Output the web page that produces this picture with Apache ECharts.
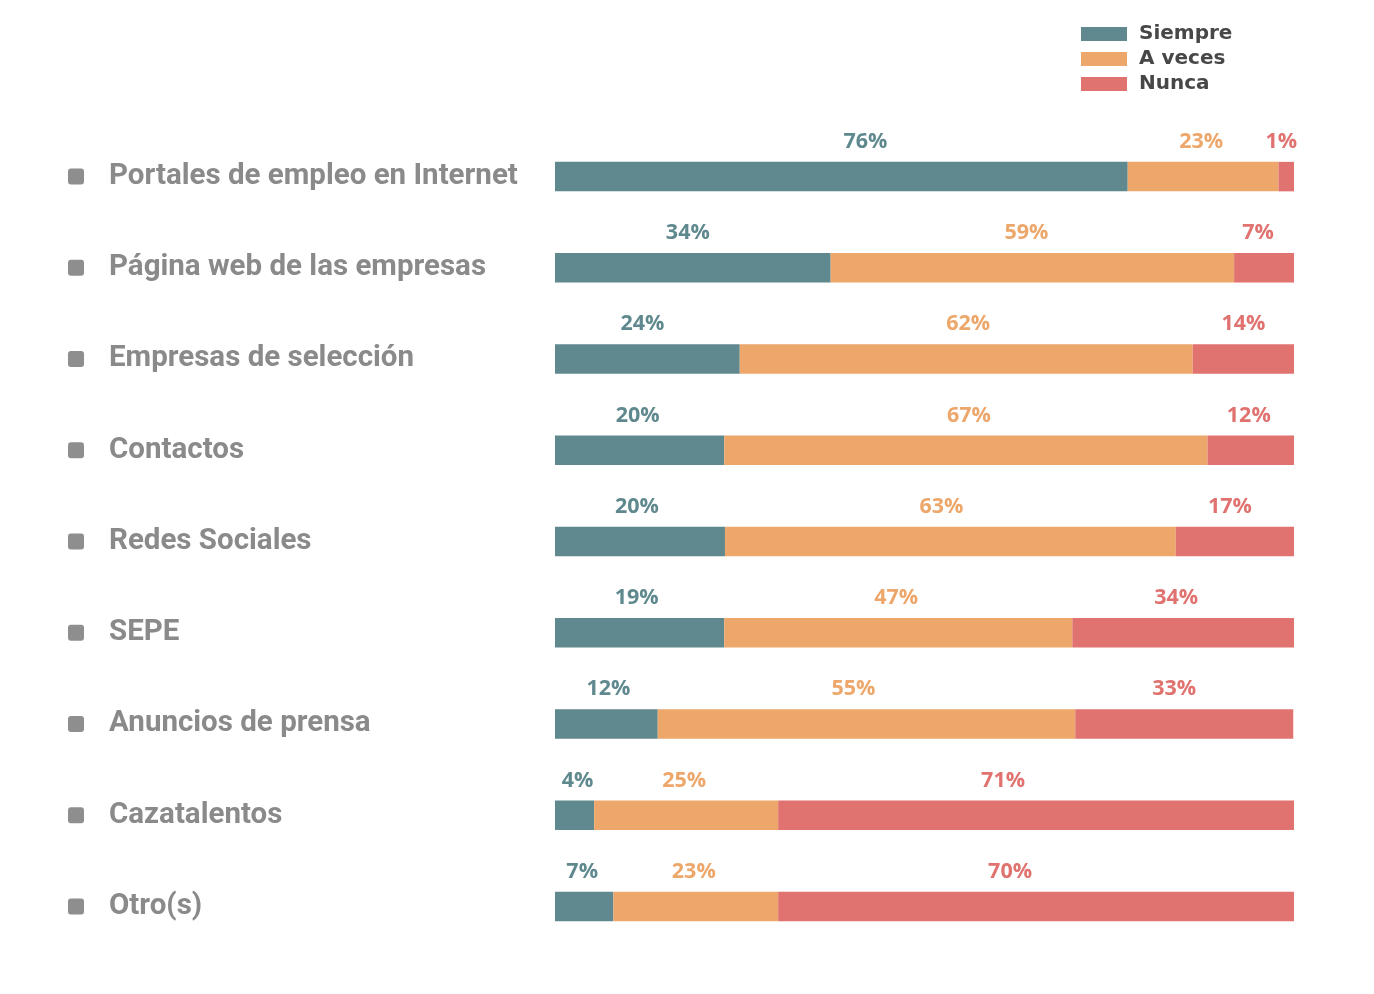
<!DOCTYPE html>
<html>
<head>
<meta charset="utf-8">
<script src="https://cdn.jsdelivr.net/npm/echarts@6/dist/echarts.min.js"></script>
<style>html,body{margin:0;padding:0;background:#fff}#c{width:1374px;height:994px}</style>
</head>
<body>
<div id="c"></div>
<script>
var categories = ['Portales de empleo en Internet','Página web de las empresas','Empresas de selección','Contactos','Redes Sociales','SEPE','Anuncios de prensa','Cazatalentos','Otro(s)'];
var seriesNames = ['Siempre','A veces','Nunca'];
// bar lengths (share of the full bar)
var siempre = [77.5, 37.3, 25.0, 22.9, 23.0, 22.9, 13.9, 5.3, 7.9];
var aveces  = [20.4, 54.6, 61.3, 65.4, 61.0, 47.1, 56.5, 24.9, 22.3];
var nunca   = [2.1, 8.1, 13.7, 11.7, 16.0, 30.0, 29.5, 69.8, 69.8];
// printed percentage labels
var siempreLabels = ['76%','34%','24%','20%','20%','19%','12%','4%','7%'];
var avecesLabels  = ['23%','59%','62%','67%','63%','47%','55%','25%','23%'];
var nuncaLabels   = ['1%','7%','14%','12%','17%','34%','33%','71%','70%'];

var colors = ['#5f898e','#eda76b','#e0726f'];
var values = [siempre, aveces, nunca];
var labels = [siempreLabels, avecesLabels, nuncaLabels];
// horizontal nudges of a few labels, as placed in the original (style only)
var labelNudge = [
  [24, -5, -5, -2, -3, -3, 2, 3, -2],
  [-2, -6, 2, 3, -9, -2, -13, -2, -2],
  [-5, -6, 0, -2, -5, -7, -10, -33, -26]
];

var chart = echarts.init(document.getElementById('c'));
chart.setOption({
  animation: false,
  legend: {
    orient: 'vertical', left: 1081, top: 24, padding: 0,
    itemWidth: 46, itemHeight: 14, itemGap: 5,
    icon: 'rect',
    textStyle: { fontFamily: 'DejaVu Sans', fontWeight: 'bold', fontSize: 20, color: '#474747', lineHeight: 17, padding: [3, 0, 0, 7] },
    data: seriesNames
  },
  grid: { left: 555, right: 80, top: 131, bottom: 42 },
  xAxis: { type: 'value', min: 0, max: 100, show: false },
  yAxis: {
    type: 'category', inverse: true, data: categories,
    axisLine: { show: false }, axisTick: { show: false },
    axisLabel: {
      align: 'left', margin: 487,
      formatter: function (v) { return '{b|}{t|' + v + '}'; },
      rich: {
        b: { width: 16, height: 16, backgroundColor: '#8e8e8e', borderRadius: 3, verticalAlign: 'middle' },
        t: { fontFamily: 'Roboto', fontWeight: 'bold', fontSize: 29.5, color: '#8a8a8a', padding: [0, 0, 0, 25], verticalAlign: 'middle' }
      }
    }
  },
  series: seriesNames.map(function (name, i) {
    return {
      name: name, type: 'bar', stack: 'total', barWidth: 29.5,
      itemStyle: { color: colors[i] },
      label: {
        show: true, position: 'top', distance: 9,
        fontFamily: 'Open Sans', fontWeight: 700, fontSize: 21.5, color: colors[i],
        formatter: function (p) { return labels[i][p.dataIndex]; }
      },
      data: values[i].map(function (v, j) {
        return { value: v, label: { offset: [labelNudge[i][j], 0] } };
      })
    };
  })
});
</script>
</body>
</html>
